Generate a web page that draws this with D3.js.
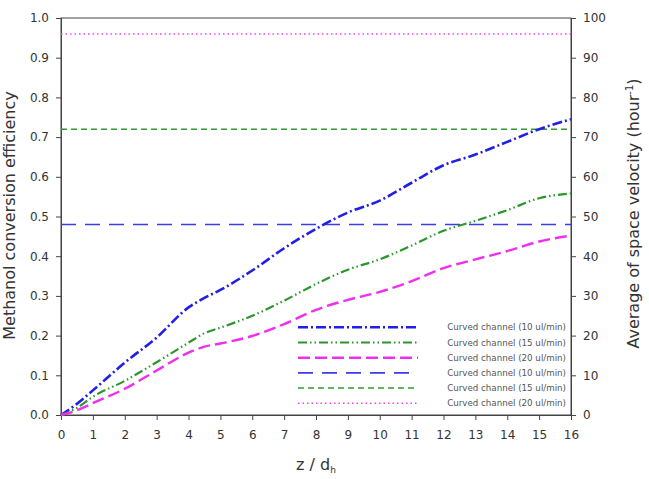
<!DOCTYPE html>
<html>
<head>
<meta charset="utf-8">
<script src="https://cdn.jsdelivr.net/npm/d3@7"></script>
<style>
  html, body { margin: 0; padding: 0; background: #fff; }
  svg { display: block; font-family: "DejaVu Sans", Verdana, sans-serif; }
</style>
</head>
<body>
<svg id="chart" width="649" height="479"></svg>
<script>
// ---- data ----
const zValues = [0, 0.5, 1, 2, 3, 4, 4.5, 5, 6, 7, 8, 9, 10, 11, 12, 13, 14, 15, 16];
const curved10 = [0, 0.028, 0.062, 0.132, 0.195, 0.271, 0.295, 0.315, 0.364, 0.42, 0.469, 0.51, 0.54, 0.585, 0.629, 0.656, 0.688, 0.72, 0.745];
const curved15 = [0, 0.018, 0.046, 0.086, 0.133, 0.182, 0.206, 0.22, 0.25, 0.288, 0.33, 0.366, 0.392, 0.427, 0.464, 0.489, 0.516, 0.546, 0.558];
const curved20 = [0, 0.012, 0.03, 0.066, 0.112, 0.157, 0.172, 0.18, 0.199, 0.229, 0.265, 0.29, 0.31, 0.337, 0.37, 0.392, 0.413, 0.437, 0.452];
// space velocity (hour^-1), right axis
const velocity10 = 48;
const velocity15 = 72;
const velocity20 = 96;
const xTicks = d3.range(0, 17, 1);
const yLeftTicks = d3.range(0, 1.01, 0.1);
const yRightTicks = d3.range(0, 101, 10);
const legendLabels = [
  "Curved channel (10 ul/min)", "Curved channel (15 ul/min)", "Curved channel (20 ul/min)",
  "Curved channel (10 ul/min)", "Curved channel (15 ul/min)", "Curved channel (20 ul/min)"
];

// ---- layout ----
const svg = d3.select("#chart");
const L = 61, R = 571, T = 18, B = 415;
const x = d3.scaleLinear().domain([0, 16]).range([L, R]);
const yL = d3.scaleLinear().domain([0, 1]).range([B, T]);
const yR = d3.scaleLinear().domain([0, 100]).range([B, T]);

const axisColor = "#444";
const textColor = "#333";
const FONT = '"DejaVu Sans", Verdana, sans-serif';

const blue = "#1f1fe6", green = "#2b962b", pink = "#f02ef0";

const styles = [
  { color: blue, width: 2.6, dash: "10,3,2,3" },
  { color: green, width: 2.2, dash: "9,3,1.5,3,1.5,3" },
  { color: pink, width: 2.4, dash: "12,5" },
  { color: "#3a3af0", width: 1.6, dash: "15,9" },
  { color: "#2f9a2f", width: 1.5, dash: "6,4" },
  { color: "#f040f0", width: 1.5, dash: "1.5,3" }
];

// frame
svg.append("rect").attr("x", L).attr("y", T).attr("width", R - L).attr("height", B - T)
  .attr("fill", "none").attr("stroke", axisColor).attr("stroke-width", 1);

// axes
function styleAxis(g) {
  g.select(".domain").attr("stroke", axisColor);
  g.selectAll(".tick line").attr("stroke", axisColor);
  g.selectAll(".tick text").attr("fill", textColor).style("font-size", "12px")
    .style("font-family", FONT);
}
svg.append("g").attr("transform", `translate(0,${B})`)
  .call(d3.axisBottom(x).tickValues(xTicks).tickFormat(d3.format("d")).tickSize(5).tickPadding(10))
  .call(styleAxis);
svg.append("g").attr("transform", `translate(${L},0)`)
  .call(d3.axisLeft(yL).tickValues(yLeftTicks).tickFormat(d3.format(".1f")).tickSize(5).tickPadding(7))
  .call(styleAxis);
svg.append("g").attr("transform", `translate(${R},0)`)
  .call(d3.axisRight(yR).tickValues(yRightTicks).tickFormat(d3.format("d")).tickSize(5).tickPadding(7))
  .call(styleAxis);

// horizontal velocity lines (right axis)
const hLines = [velocity10, velocity15, velocity20];
hLines.forEach((v, i) => {
  const s = styles[3 + i];
  svg.append("line").attr("x1", L).attr("x2", R).attr("y1", yR(v)).attr("y2", yR(v))
    .attr("stroke", s.color).attr("stroke-width", s.width).attr("stroke-dasharray", s.dash);
});

// curves
const line = d3.line().x(d => x(d[0])).y(d => yL(d[1])).curve(d3.curveMonotoneX);
[curved10, curved15, curved20].forEach((ser, i) => {
  const s = styles[i];
  svg.append("path").datum(zValues.map((z, k) => [z, ser[k]]))
    .attr("d", line).attr("fill", "none")
    .attr("stroke", s.color).attr("stroke-width", s.width).attr("stroke-dasharray", s.dash);
});

// legend
const legY0 = 327.3, legDy = 15.2;
legendLabels.forEach((lab, i) => {
  const s = styles[i];
  const yy = legY0 + i * legDy;
  svg.append("line").attr("x1", 298).attr("x2", 418).attr("y1", yy).attr("y2", yy)
    .attr("stroke", s.color).attr("stroke-width", s.width).attr("stroke-dasharray", s.dash);
  svg.append("text").attr("x", 566).attr("y", yy + 3).attr("text-anchor", "end")
    .attr("fill", "#555").style("font-size", "8.7px").text(lab);
});

// axis titles
svg.append("text").attr("transform", `translate(15,${(T + B) / 2 - 1}) rotate(-90)`)
  .attr("text-anchor", "middle").attr("fill", textColor).style("font-size", "16px")
  .text("Methanol conversion efficiency");

const rt = svg.append("text").attr("transform", `translate(639,${(T + B) / 2 - 3}) rotate(-90)`)
  .attr("text-anchor", "middle").attr("fill", textColor).style("font-size", "16px");
rt.append("tspan").text("Average of space velocity (hour");
rt.append("tspan").attr("dy", -6).style("font-size", "10px").text("-1");
rt.append("tspan").attr("dy", 6).text(")");

const xt = svg.append("text").attr("x", 316).attr("y", 470).attr("text-anchor", "middle")
  .attr("fill", textColor).style("font-size", "16px");
xt.append("tspan").text("z / d");
xt.append("tspan").attr("dy", 3).style("font-size", "9px").text("h");
</script>
</body>
</html>
